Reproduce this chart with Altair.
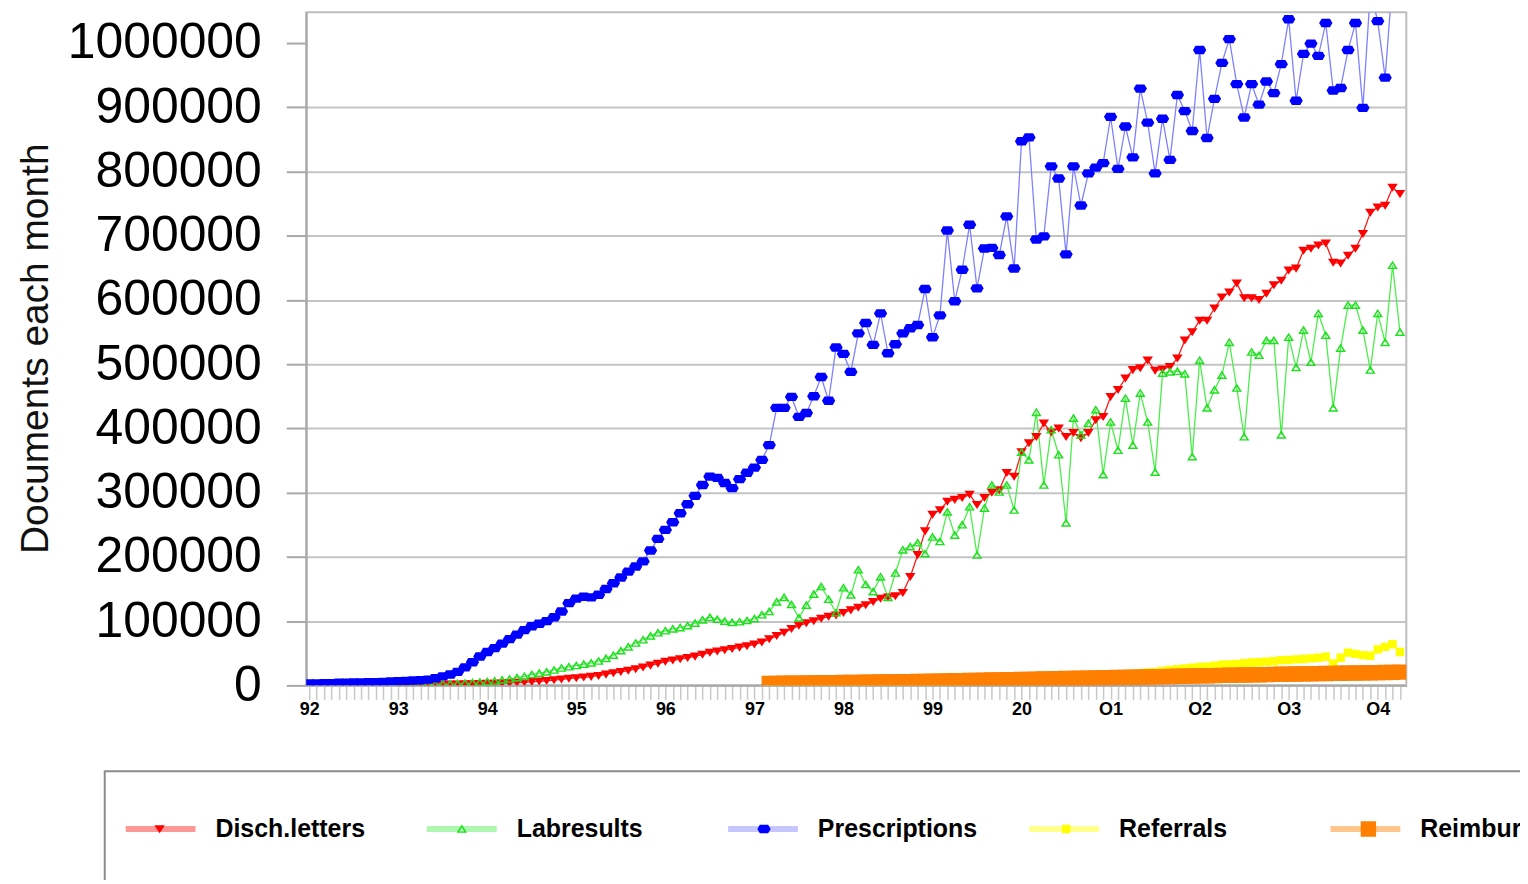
import json
import pandas as pd
import altair as alt

# ---------------- data ----------------
series_names = ["Disch.letters", "Labresults", "Prescriptions", "Referrals", "Reimbursement"]
year_labels = ["92", "93", "94", "95", "96", "97", "98", "99", "20", "O1", "O2", "O3", "O4"]
y_ticks = [0, 100000, 200000, 300000, 400000, 500000, 600000, 700000, 800000, 900000, 1000000]
last_month = 147  # April 2004, counted from January 1992 = 0

# Prescriptions: Jan 1992 .. Apr 2004
prescriptions = [
    3000, 3000, 3500, 3500, 4000, 4000, 4500, 4500, 5000, 5000, 5500, 6000,
    6500, 7000, 7500, 8000, 9000, 11000, 14000, 17000, 21000, 28000, 36000, 45000,
    52000, 58000, 65000, 72000, 79000, 86000, 92000, 96000, 100000, 106000, 115000, 128000,
    135000, 138000, 137000, 141000, 150000, 159000, 168000, 177000, 185000, 193000, 210000, 228000,
    242000, 254000, 268000, 282000, 295000, 312000, 325000, 323000, 315000, 307000, 321000, 331000,
    339000, 351000, 374000, 432000, 432000, 449000, 418000, 424000, 450000, 480000, 443000, 526000,
    516000, 488000, 548000, 564000, 530000, 579000, 517000, 531000, 548000, 556000, 561000, 617000,
    542000, 576000, 708000, 598000, 647000, 717000, 618000, 680000, 681000, 670000, 730000, 649000,
    847000, 853000, 694000, 699000, 808000, 789000, 671000, 808000, 747000, 797000, 806000, 813000,
    885000, 804000, 870000, 822000, 929000, 876000, 797000, 882000, 818000, 919000, 894000, 863000,
    989000, 852000, 913000, 969000, 1006000, 936000, 884000, 936000, 904000, 940000, 922000, 967000,
    1037000, 910000, 983000, 999000, 980000, 1031000, 926000, 930000, 989000, 1031000, 899000, 1080000,
    1034000, 946000, 1100000, 1120000,
]

# Disch.letters: Jan 1993 .. Apr 2004
disch_letters = [
    500, 600, 700, 800, 900, 1000, 1200, 1400, 1600, 1800, 2000, 2300,
    2600, 2900, 3300, 3700, 4200, 4800, 5500, 6300, 7200, 8200, 9300, 10500,
    11500, 12500, 13500, 15000, 17000, 19000, 21000, 23000, 25500, 28000, 31000, 34000,
    37000, 39000, 41000, 43000, 45000, 48000, 51000, 53000, 55000, 57000, 59000, 61000,
    64000, 67000, 72000, 77000, 82000, 88000, 93000, 97000, 100000, 104000, 107000, 109000,
    113000, 117000, 121000, 125000, 130000, 135000, 137000, 139000, 144000, 169000, 203000, 240000,
    266000, 273000, 286000, 289000, 292000, 297000, 281000, 292000, 300000, 304000, 331000, 325000,
    363000, 377000, 387000, 408000, 394000, 400000, 387000, 393000, 385000, 393000, 413000, 418000,
    449000, 460000, 478000, 491000, 494000, 506000, 490000, 492000, 496000, 509000, 537000, 550000,
    568000, 568000, 587000, 604000, 612000, 626000, 603000, 603000, 600000, 610000, 623000, 630000,
    646000, 649000, 677000, 680000, 685000, 688000, 658000, 657000, 669000, 680000, 703000, 736000,
    744000, 747000, 775000, 765000,
]

# Labresults: Jan 1993 .. Apr 2004
labresults = [
    500, 700, 900, 1100, 1300, 1600, 2000, 2500, 3000, 3600, 4300, 5000,
    6000, 7000, 8500, 10000, 12000, 14000, 17000, 19000, 21000, 24000, 27000, 29000,
    31000, 33000, 35000, 38000, 42000, 47000, 54000, 60000, 66000, 71000, 77000, 82000,
    85000, 88000, 90000, 93000, 97000, 102000, 106000, 103000, 100000, 98000, 99000, 101000,
    104000, 110000, 115000, 130000, 137000, 126000, 105000, 125000, 142000, 154000, 134000, 113000,
    152000, 141000, 180000, 157000, 146000, 169000, 137000, 175000, 211000, 216000, 222000, 205000,
    231000, 224000, 270000, 234000, 250000, 278000, 203000, 276000, 312000, 301000, 312000, 273000,
    363000, 351000, 425000, 312000, 398000, 359000, 253000, 416000, 390000, 408000, 429000, 328000,
    410000, 366000, 447000, 374000, 455000, 410000, 332000, 486000, 488000, 489000, 485000, 356000,
    506000, 432000, 460000, 483000, 534000, 463000, 387000, 519000, 514000, 537000, 537000, 390000,
    542000, 495000, 553000, 503000, 579000, 545000, 432000, 525000, 592000, 592000, 553000, 491000,
    579000, 534000, 654000, 550000,
]

# Referrals: Mar 1997 .. Apr 2004
referrals = [
    1100, 1300, 1400, 1600, 1700, 1900, 2000, 2200, 2300, 2500,
    2600, 2800, 3000, 3100, 3300, 3500, 3700, 3900, 4100, 4400, 4600, 4900,
    5100, 5400, 5700, 6000, 6300, 6600, 6900, 7300, 7600, 8000, 8400, 8800,
    9200, 9700, 10100, 10600, 11100, 11600, 12100, 12700, 13300, 13900, 14500, 15200,
    15900, 16600, 17300, 18100, 19000, 20000, 21000, 22500, 24000, 25000, 26500, 27500,
    28500, 29000, 30500, 32000, 32500, 33500, 34500, 35500, 36000, 37000, 37500, 39000,
    39500, 40500, 41000, 42000, 43000, 44500, 34000, 43000, 51000, 49000, 47000, 46000,
    56000, 60000, 64000, 52000,
]

# Reimbursement: Mar 1997 .. Apr 2004
reimbursement = [
    3000, 3100, 3300, 3400, 3500, 3700, 3800, 4000, 4100, 4300,
    4400, 4600, 4700, 4900, 5100, 5200, 5400, 5500, 5700, 5900, 6100, 6300,
    6500, 6700, 6900, 7100, 7400, 7600, 7800, 8000, 8300, 8500, 8700, 9000,
    9200, 9400, 9600, 9900, 10100, 10300, 10600, 10800, 11000, 11300, 11500, 11700,
    12000, 12200, 12400, 12700, 12900, 13100, 13400, 13600, 13800, 14100, 14300, 14500,
    14800, 15000, 15200, 15500, 15700, 15900, 16100, 16400, 16600, 16800, 17000, 17300,
    17500, 17700, 17900, 18100, 18300, 18500, 18700, 18900, 19100, 19300, 19500, 19700,
    19900, 20100, 20300, 20500,
]

# ---------------- styles ----------------
line_colors = ["#ff1a1a", "#4cee4c", "#8080ff", "#ffff00", "#ff8000"]
marker_colors = ["#ff0000", "#1ee01e", "#0000ff", "#ffff00", "#ff7f00"]
# custom symbol paths (unit box scaled by sqrt(size)/2)
marker_paths = [
    "M-0.15,-0.11L0.15,-0.11L0,0.12Z",
    "M0,-0.13L0.15,0.11L-0.15,0.11Z M0,-0.05L-0.075,0.07L0.075,0.07Z",
    "M-0.19,0L-0.12,-0.12L0.12,-0.12L0.19,0L0.12,0.12L-0.12,0.12Z",
    "M-0.12,-0.12H0.12V0.12H-0.12Z",
    "M-0.22,-0.22H0.22V0.22H-0.22Z",
]
FONT = "Liberation Sans"

rows = []
for name, vals in zip(series_names, [disch_letters, labresults, prescriptions, referrals, reimbursement]):
    start = last_month + 1 - len(vals)
    for i, v in enumerate(vals):
        rows.append({"month": start + i, "value": v, "series": name})
df = pd.DataFrame(rows)

label_expr = "datum.value % 12 == 0 ? " + json.dumps(year_labels) + "[datum.value / 12] : ''"

x_enc = alt.X(
    "month:Q",
    scale=alt.Scale(domain=[-0.4, 147.85], nice=False, zero=False),
    axis=alt.Axis(
        values=list(range(last_month + 1)), labelExpr=label_expr, title=None, grid=False,
        labelOverlap=False, labelFlush=False, tickSize=14, tickColor="#c8c8c8", tickWidth=1.5,
        domainColor="#a8a8a8", domainWidth=2, labelFont=FONT, labelFontSize=18,
        labelFontWeight="bold", labelColor="#000000", labelPadding=1,
    ),
)
y_enc = alt.Y(
    "value:Q",
    scale=alt.Scale(domain=[0, 1048000], nice=False),
    axis=alt.Axis(
        values=y_ticks, format="d", title="Documents each month", labelOverlap=False,
        labelLimit=400,
        tickSize=20, tickColor="#a8a8a8", tickWidth=2, domainColor="#a8a8a8", domainWidth=2,
        grid=True, gridColor="#c4c4c4", gridWidth=2,
        gridOpacity={"condition": {"test": "datum.value >= 1000000", "value": 0}, "value": 1},
        labelFont=FONT, labelFontSize=50, labelColor="#000000", labelPadding=25,
        titleFont=FONT, titleFontSize=39, titleFontWeight="normal", titleColor="#111111",
        titleBaseline="alphabetic", titleX=-259, titleY=337,
    ),
)

legend_common = dict(
    orient="none", legendX=-202, legendY=761, direction="horizontal", columns=5,
    gridAlign="all", symbolSize=4900, clipHeight=80,
    labelFont=FONT, labelFontSize=25, labelFontWeight="bold", labelColor="#000000",
    labelLimit=400, padding=18, title=None,
)
# legend with the pale line symbols and the texts
line_legend = alt.Legend(
    symbolType="stroke", symbolStrokeWidth=6, labelOffset=17, columnPadding=20,
    strokeColor="#8c8c8c", fillColor="#ffffff", zindex=0, **legend_common,
)
# legend with the markers only, laid over the first one
marker_legend = alt.Legend(
    symbolStrokeWidth=0, symbolOffset=2, labelOffset=20, labelExpr="''", columnPadding=211,
    symbolOpacity=1, strokeColor="transparent", zindex=1, **legend_common,
)

base = alt.Chart(df)

lines = base.mark_line(strokeWidth=1.3, clip=True).encode(
    x=x_enc, y=y_enc,
    color=alt.Color("series:N", scale=alt.Scale(domain=series_names, range=line_colors), legend=None),
)

# one point per series: draws nothing visible, only carries the legend's line symbols
legend_lines = base.transform_filter(f"datum.month == {last_month}").mark_line(
    strokeWidth=6, opacity=0.45, clip=True
).encode(
    x=x_enc, y=y_enc,
    stroke=alt.Stroke("series:N", scale=alt.Scale(domain=series_names, range=line_colors), legend=line_legend),
)

points = base.mark_point(filled=True, size=4900, strokeWidth=0, opacity=1, clip=True).encode(
    x=x_enc, y=y_enc,
    fill=alt.Fill("series:N", scale=alt.Scale(range=marker_colors), legend=marker_legend),
    shape=alt.Shape("series:N", scale=alt.Scale(range=marker_paths), legend=marker_legend),
)

chart = (
    alt.layer(lines, legend_lines, points)
    .resolve_scale(stroke="independent")
    .resolve_legend(stroke="independent")
    .properties(
        width=1103, height=675,
        padding={"left": 299, "top": 3, "right": 114, "bottom": 194},
        autosize=alt.AutoSizeParams(type="none"),
    )
    .configure(font=FONT)
    .configure_view(stroke="#bdbdbd", strokeWidth=2)
    .configure_legend(strokeWidth=2)
)

chart.save("out.html", embed_options={"renderer": "svg", "actions": False})
